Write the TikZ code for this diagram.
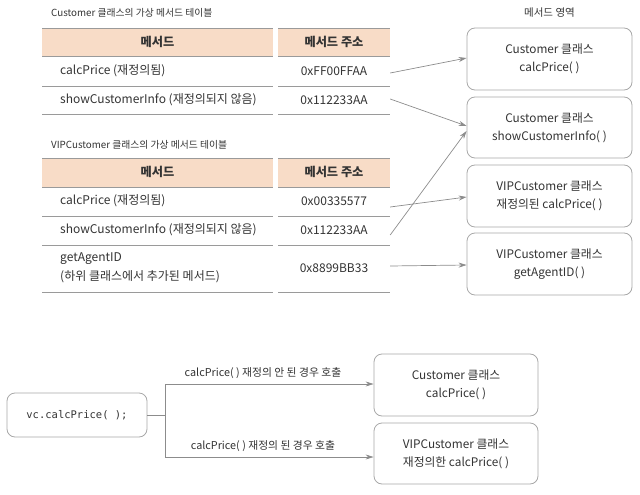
\documentclass[tikz,border=0pt]{standalone}
\usepackage{fontspec}
\setmainfont{Noto Sans CJK KR}
\setmonofont{DejaVu Sans Mono}
\usetikzlibrary{arrows.meta}
\definecolor{txt}{HTML}{333333}
\definecolor{hdr}{HTML}{F8DCC7}
\definecolor{rulec}{HTML}{9A9A9A}
\definecolor{bord}{HTML}{A8A8A8}
\definecolor{arr}{HTML}{8C8C8C}
\begin{document}
\begin{tikzpicture}[x=1pt,y=-1pt,
 every node/.style={text=txt, inner sep=0pt},
 tabtitle/.style={font=\fontsize{9.8}{11}\selectfont, anchor=west},
 cell/.style={font=\fontsize{12}{19}\selectfont},
 addr/.style={cell, minimum width=112pt},
 hdrtext/.style={font=\fontsize{12.2}{14}\selectfont\bfseries},
 tline/.style={draw=rulec, line width=0.9pt},
 membox/.style={draw=bord, rounded corners=8pt, line width=0.8pt, minimum width=165pt, minimum height=62pt, align=center, font=\fontsize{11.8}{18}\selectfont},
 ptr/.style={draw=arr, line width=0.7pt, -{Stealth[length=8pt,width=5pt]}},
 lbl/.style={font=\fontsize{10.8}{12}\selectfont},
]
\useasboundingbox (0,0) rectangle (640,495);

% ---------- table 1 ----------
\node[tabtitle] (t1) at (51,13) {Customer 클래스의 가상 메서드 테이블};
\fill[hdr] (42,28) rectangle (273,56);
\fill[hdr] (278,28) rectangle (390,56);
\foreach \yy in {28,56,86,114}{
  \draw[tline] (42,\yy) -- (273,\yy);
  \draw[tline] (278,\yy) -- (390,\yy);
}
\node[hdrtext] (h1a) at (157.5,42) {메서드};
\node[hdrtext] (h1b) at (334,42) {메서드 주소};
\node[cell, anchor=west] (m11) at (60,71) {calcPrice (재정의됨)};
\node[addr] (a11) at (334,71) {0xFF00FFAA};
\node[cell, anchor=west] (m12) at (60,100) {showCustomerInfo (재정의되지 않음)};
\node[addr] (a12) at (334,100) {0x112233AA};

% ---------- table 2 ----------
\node[tabtitle] (t2) at (51,145) {VIPCustomer 클래스의 가상 메서드 테이블};
\fill[hdr] (42,158) rectangle (273,187);
\fill[hdr] (278,158) rectangle (390,187);
\foreach \yy in {158,187,216,245,292}{
  \draw[tline] (42,\yy) -- (273,\yy);
  \draw[tline] (278,\yy) -- (390,\yy);
}
\node[hdrtext] (h2a) at (157.5,172) {메서드};
\node[hdrtext] (h2b) at (334,172) {메서드 주소};
\node[cell, anchor=west] (m21) at (60,201) {calcPrice (재정의됨)};
\node[addr] (a21) at (334,201) {0x00335577};
\node[cell, anchor=west] (m22) at (60,230) {showCustomerInfo (재정의되지 않음)};
\node[addr] (a22) at (334,230) {0x112233AA};
\node[cell, anchor=west, align=left] (m23) at (60,268) {getAgentID\\(하위 클래스에서 추가된 메서드)};
\node[addr] (a23) at (334,268) {0x8899BB33};

% ---------- method area ----------
\node[font=\fontsize{10.5}{12}\selectfont] (area) at (549.5,13) {메서드 영역};
\node[membox] (b1) at (549.5,59) {Customer 클래스\\calcPrice( )};
\node[membox, minimum height=61pt] (b2) at (549.5,127.5) {Customer 클래스\\showCustomerInfo( )};
\node[membox] (b3) at (549.5,196) {VIPCustomer 클래스\\재정의된 calcPrice( )};
\node[membox] (b4) at (549.5,264) {VIPCustomer 클래스\\getAgentID( )};

\draw[ptr] ([yshift=-2pt]a11.east) -- ([yshift=1pt]b1.west);
\draw[ptr] ([yshift=1pt]a12.east) -- ([yshift=1.5pt]b2.west);
\draw[ptr] ([yshift=-5pt]a22.east) -- ([yshift=-3.5pt]b2.west);
\draw[ptr] ([yshift=-6pt]a21.east) -- ([yshift=-1pt]b3.west);
\draw[ptr] ([yshift=2pt]a23.east) -- ([yshift=-1pt]b4.west);

% ---------- bottom ----------
\node[draw=bord, rounded corners=8pt, line width=0.8pt, minimum width=140pt, minimum height=44pt, font=\ttfamily\fontsize{10.5}{12}\selectfont] (vc) at (77,415) {vc.calcPrice( );};
\node[membox, minimum width=164pt] (bA) at (456,385) {Customer 클래스\\calcPrice( )};
\node[membox, minimum width=164pt, minimum height=61pt] (bB) at (456,453.5) {VIPCustomer 클래스\\재정의한 calcPrice( )};
\coordinate (j1) at (165,384);
\coordinate (j2) at (165,457);
\draw[draw=arr, line width=0.7pt] (vc.east) -- (vc.east -| j1);
\draw[draw=arr, line width=0.7pt] (j1) -- (j2);
\draw[ptr] (j1) -- (j1 -| bA.west);
\draw[ptr] (j2) -- (j2 -| bB.west);
\node[lbl] (lA) at (263,373) {calcPrice( ) 재정의 안 된 경우 호출};
\node[lbl] (lB) at (263,446) {calcPrice( ) 재정의 된 경우 호출};
\end{tikzpicture}
\end{document}
